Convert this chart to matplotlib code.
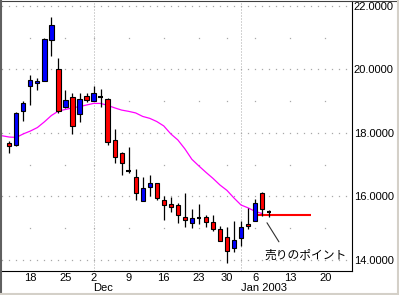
import matplotlib
matplotlib.use('Agg')
import matplotlib.pyplot as plt
import matplotlib.transforms as mtransforms
from matplotlib.lines import Line2D
import numpy as np
import pandas as pd

# ---------------- data ----------------
candle_dates = ['2002-11-13', '2002-11-14', '2002-11-15', '2002-11-18', '2002-11-19',
                '2002-11-20', '2002-11-21', '2002-11-22', '2002-11-25', '2002-11-26',
                '2002-11-27', '2002-11-29', '2002-12-02', '2002-12-03', '2002-12-04',
                '2002-12-05', '2002-12-06', '2002-12-09', '2002-12-10', '2002-12-11',
                '2002-12-12', '2002-12-13', '2002-12-16', '2002-12-17', '2002-12-18',
                '2002-12-19', '2002-12-20', '2002-12-23', '2002-12-24', '2002-12-26',
                '2002-12-27', '2002-12-30', '2002-12-31', '2003-01-02', '2003-01-03',
                '2003-01-06', '2003-01-07', '2003-01-08']
opens = [17.68, 17.62, 18.70, 19.49, 19.57, 19.65, 20.93, 20.01, 18.83, 19.12,
         18.60, 19.17, 19.02, 19.12, 19.06, 17.78, 17.36, 16.81, 16.60, 15.87,
         16.31, 16.42, 15.89, 15.76, 15.73, 15.36, 15.16, 15.33, 15.36, 15.18,
         14.97, 14.71, 14.37, 14.68, 15.13, 15.24, 16.12, 15.50]
highs = [17.75, 18.66, 19.02, 19.83, 19.72, 20.98, 21.66, 20.35, 19.35, 19.27,
         19.25, 19.25, 19.48, 19.38, 19.09, 18.13, 17.39, 17.55, 16.87, 16.60,
         16.68, 16.42, 16.02, 15.99, 15.79, 16.12, 15.61, 15.76, 15.42, 15.42,
         15.08, 15.05, 15.21, 15.21, 15.63, 15.92, 16.15, 15.57]
lows = [17.38, 17.60, 18.38, 18.88, 19.35, 19.65, 20.43, 18.64, 18.80, 17.97,
        18.34, 18.99, 19.02, 18.83, 17.62, 17.06, 16.66, 16.75, 15.89, 15.84,
        16.02, 15.89, 15.26, 15.52, 15.16, 15.05, 15.02, 15.13, 15.05, 14.92,
        14.61, 13.90, 14.26, 14.44, 14.97, 15.21, 15.39, 15.36]
closes = [17.60, 18.62, 18.94, 19.67, 19.64, 20.95, 21.40, 18.70, 19.04, 18.22,
          19.06, 19.03, 19.25, 19.12, 17.73, 17.25, 17.05, 16.81, 16.10, 16.26,
          16.42, 15.94, 15.74, 15.68, 15.42, 15.26, 15.31, 15.33, 15.20, 14.97,
          14.61, 14.29, 14.63, 15.03, 15.07, 15.80, 15.60, 15.50]

ma_start_date = '2002-11-12'
ma_values = [17.91, 17.87, 17.86, 17.97, 18.06, 18.17, 18.35, 18.55, 18.69, 18.74,
             18.79, 18.83, 18.88, 18.93, 18.93, 18.87, 18.79, 18.72, 18.68, 18.63,
             18.52, 18.46, 18.36, 18.22, 17.97, 17.78, 17.50, 17.17, 16.96, 16.76,
             16.57, 16.36, 16.19, 15.95, 15.73, 15.64, 15.53, 15.46]

sell_level = 15.43
sell_start = '2003-01-06'
sell_end = '2003-01-16'
annotation_text = '売りのポイント'

y_ticks = [14, 16, 18, 20, 22]
y_minor = [15, 17, 19, 21]
x_tick_dates = ['2002-11-18', '2002-11-25', '2002-12-02', '2002-12-09', '2002-12-16',
                '2002-12-23', '2002-12-30', '2003-01-06', '2003-01-13', '2003-01-20']
x_tick_labels = ['18', '25', '2', '9', '16', '23', '30', '6', '13', '20']
month_starts = ['2002-12-02', '2003-01-02']
month_labels = ['Dec', 'Jan 2003']
holidays = ['2002-11-28', '2002-12-25', '2003-01-01']

# ---------------- trading-day axis ----------------
cal = pd.bdate_range('2002-11-12', '2003-01-24')
cal = cal[~cal.isin(pd.to_datetime(holidays))]
pos = {d.strftime('%Y-%m-%d'): i for i, d in enumerate(cal)}

plt.rcParams['font.family'] = ['Liberation Sans', 'DejaVu Sans']

W, H = 399, 295
fig = plt.figure(figsize=(W / 100, H / 100), dpi=100)
fig.patch.set_facecolor('white')
ax = fig.add_axes([2 / W, 24 / H, 350 / W, 270 / H])
ax.set_facecolor('white')
ax.set_xlim(-0.04, 49.81)
ax.set_ylim(13.65, 22.157)

grid_col = '#a8a8a8'
# dense dotted grid at major levels (one dot per trading day)
all_x = np.arange(len(cal))
all_x = all_x[all_x <= 49]
for v in y_ticks:
    ax.plot(all_x, [v] * len(all_x), linestyle='none', marker='s', markersize=0.9,
            markeredgewidth=0, color=grid_col, zorder=1)
# sparse dots at minor levels (week ticks only)
wk_x = [pos[d] for d in x_tick_dates]
for v in y_minor:
    ax.plot(wk_x, [v] * len(wk_x), linestyle='none', marker='s', markersize=0.9,
            markeredgewidth=0, color=grid_col, zorder=1)
# month separators
for d in month_starts:
    ax.axvline(pos[d], color=grid_col, lw=0.72, ls=(0, (1, 2)), zorder=1)

# moving average
ma_x = np.arange(len(ma_values)) + pos[ma_start_date]
ax.plot(ma_x, ma_values, color='#ff00ff', lw=0.9, zorder=2)

# sell line
ax.hlines(sell_level, pos[sell_start], pos[sell_end], color='#ff0000', lw=1.5, zorder=2.5)

# candles
cx = np.array([pos[d] for d in candle_dates])
o = np.array(opens); h = np.array(highs); l = np.array(lows); c = np.array(closes)
ax.vlines(cx, l, h, color='black', lw=0.9, zorder=3)
for xi, oi, ci in zip(cx, o, c):
    if abs(ci - oi) < 1e-9:
        ax.hlines(ci, xi - 0.33, xi + 0.33, color='black', lw=1.5, zorder=4)
    else:
        col = '#0000ff' if ci > oi else '#ff0000'
        ax.bar(xi, abs(ci - oi), bottom=min(oi, ci), width=0.6, color=col,
               edgecolor='black', linewidth=0.8, zorder=4)

# annotation
ax.annotate('', xy=(37.7, 15.17), xytext=(39.4, 14.57),
            arrowprops=dict(arrowstyle='-', color='#303030', lw=0.8, shrinkA=0, shrinkB=0),
            zorder=5)
ax.text(37.4, 14.16, annotation_text, ha='left', va='center', fontsize=8.5,
        family=['Noto Sans CJK JP', 'DejaVu Sans'], color='black', zorder=5)

# axes styling
for s in ['left', 'top']:
    ax.spines[s].set_visible(False)
for s in ['bottom', 'right']:
    ax.spines[s].set_color('black')
    ax.spines[s].set_linewidth(0.8)
ax.yaxis.tick_right()
ax.set_yticks(y_ticks)
ax.set_yticklabels([f'{v:.4f}' for v in y_ticks])
ax.set_xticks(wk_x)
ax.set_xticklabels(x_tick_labels)
ax.tick_params(axis='both', length=0, labelsize=8, colors='black')
ax.tick_params(axis='x', pad=1.5)
ax.tick_params(axis='y', pad=1.2)

trans = mtransforms.blended_transform_factory(ax.transData, ax.transAxes)
for d, lab in zip(month_starts, month_labels):
    ax.text(pos[d] - 0.05, -0.043, lab, transform=trans, ha='left', va='top', fontsize=8)

# window-like frame
fig.add_artist(Line2D([0, 1], [1 - 0.5 / H] * 2, transform=fig.transFigure, color='#404040', lw=0.8))
fig.add_artist(Line2D([1 / W] * 2, [0, 1], transform=fig.transFigure, color='#606060', lw=1.5))
fig.add_artist(Line2D([0, 1], [1.5 / H] * 2, transform=fig.transFigure, color='#d4d0c8', lw=1.5))
fig.add_artist(Line2D([1 - 1.5 / W] * 2, [0, 1], transform=fig.transFigure, color='#d4d0c8', lw=1.5))

fig.savefig('out.png', dpi=100, facecolor='white')
